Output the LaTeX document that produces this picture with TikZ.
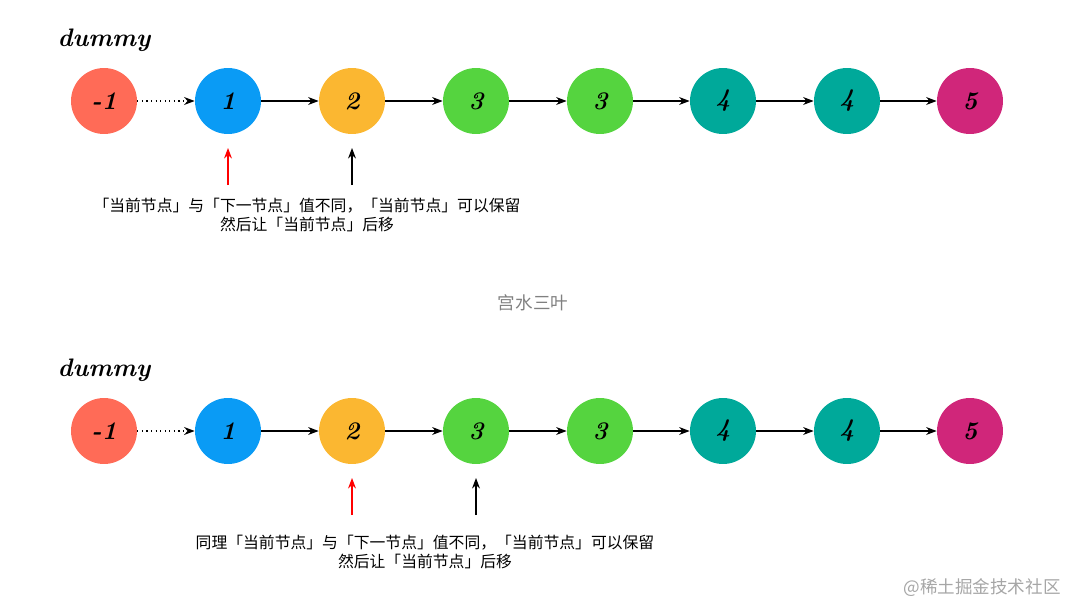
\documentclass[tikz,border=0pt]{standalone}
\usepackage{fontspec}
\newfontfamily\cjk{Noto Sans CJK SC}
\usetikzlibrary{positioning, arrows.meta}
\definecolor{cneg}{HTML}{FF6B57}
\definecolor{cone}{HTML}{0A9BF5}
\definecolor{ctwo}{HTML}{FBB731}
\definecolor{cthree}{HTML}{55D43F}
\definecolor{cfour}{HTML}{00A99A}
\definecolor{cfive}{HTML}{D0267A}
\begin{document}
\begin{tikzpicture}[x=0.02cm, y=-0.02cm,
    ball/.style={circle, minimum size=1.32cm, inner sep=0pt, font=\Large\bfseries\itshape},
    link/.style={-{Stealth[length=6pt]}, semithick},
    hint/.style={-{Stealth[length=6pt]}, semithick},
    note/.style={font=\cjk\small, align=center}
]
    \useasboundingbox (0,0) rectangle (1080,616);

    % Two rows of the list
    \foreach \row/\y in {a/101, b/431} {
        \node[font=\Large\bfseries\itshape] (dummy\row) at (104,\y-61) {dummy};
        \node[ball, fill=cneg] (\row0) at (104,\y) {-1};
        \node[ball, fill=cone] (\row1) at (228,\y) {1};
        \node[ball, fill=ctwo] (\row2) at (352,\y) {2};
        \node[ball, fill=cthree] (\row3) at (476,\y) {3};
        \node[ball, fill=cthree] (\row4) at (600,\y) {3};
        \node[ball, fill=cfour] (\row5) at (723,\y) {4};
        \node[ball, fill=cfour] (\row6) at (847,\y) {4};
        \node[ball, fill=cfive] (\row7) at (970,\y) {5};
        \draw[link, dotted, thick] (\row0) -- (\row1);
        \foreach \i [evaluate=\i as \j using int(\i+1)] in {1,...,6}
            \draw[link] (\row\i) -- (\row\j);
    }

    % Pointers, first row
    \coordinate (pa1) at (228,185);
    \coordinate (pa2) at (352,185);
    \draw[hint, red] (pa1) -- (a1.south |- 0,148);
    \draw[hint] (pa2) -- (a2.south |- 0,148);
    \node[note] (notea) at (307,215) {「当前节点」与「下一节点」值不同，「当前节点」可以保留\\然后让「当前节点」后移};

    % Pointers, second row
    \coordinate (pb1) at (352,515);
    \coordinate (pb2) at (476,515);
    \draw[hint, red] (pb1) -- (b2.south |- 0,478);
    \draw[hint] (pb2) -- (b3.south |- 0,478);
    \node[note] (noteb) at (425,552) {同理「当前节点」与「下一节点」值不同，「当前节点」可以保留\\然后让「当前节点」后移};

    % Watermarks
    \node[font=\cjk, text=gray] (mark) at (533,303) {宫水三叶};
    \node[font=\cjk, text=gray!70] (site) at (982,588) {@稀土掘金技术社区};
\end{tikzpicture}
\end{document}
